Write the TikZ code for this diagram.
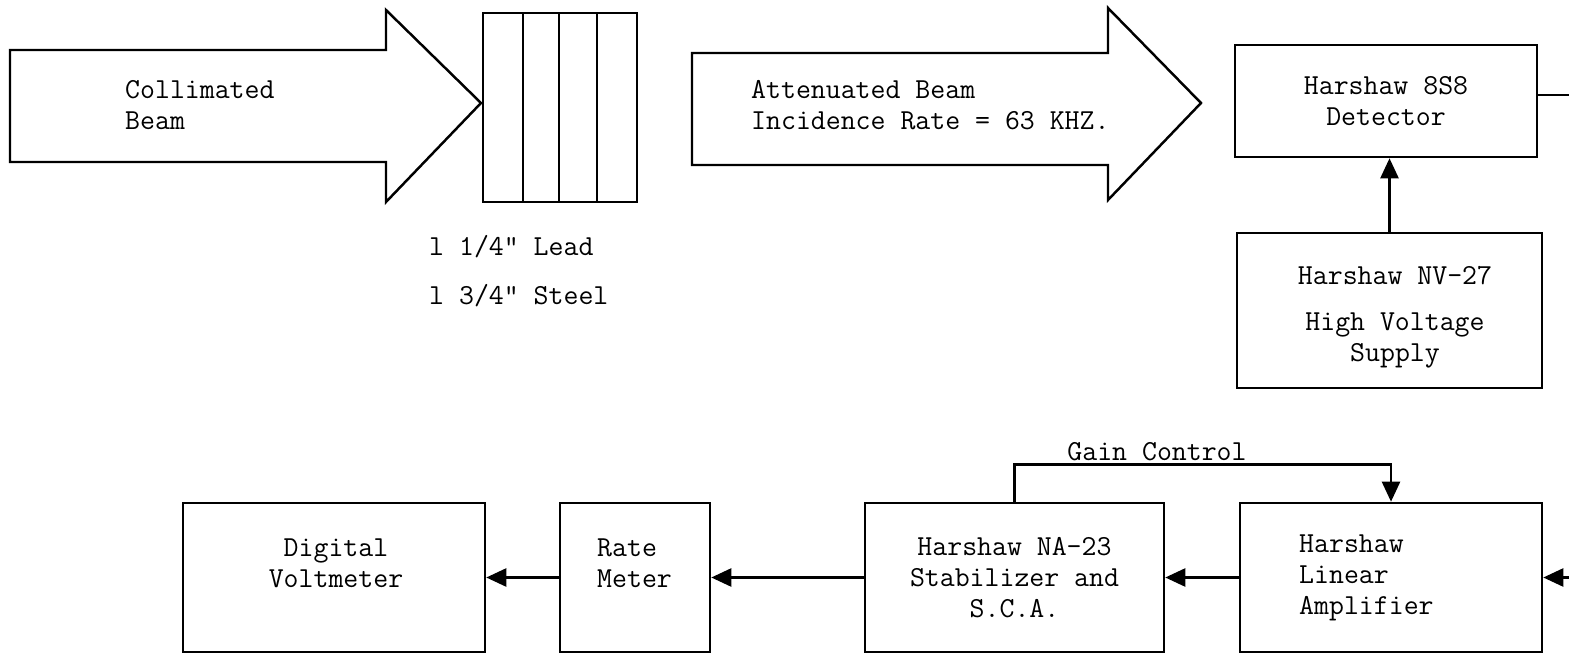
\documentclass[tikz,border=0pt]{standalone}
\usepackage{fontspec}
\usetikzlibrary{arrows.meta,positioning}

\begin{document}
\begin{tikzpicture}[x=0.02cm, y=-0.02cm, line width=1.4pt,
  caja/.style={draw, line width=1.5pt, inner sep=0pt, align=center,
    font=\ttfamily\fontsize{16.5}{17.5}\selectfont},
  texto/.style={inner sep=0pt, align=left, anchor=west,
    font=\ttfamily\fontsize{16.5}{17.5}\selectfont},
  flecha/.style={-{Triangle[length=0.4cm,width=0.36cm]}, line width=1.4pt}
]
  \clip (0,0) rectangle (1569,655);

  % haces
  \draw (10,50) -- (386,50) -- (386,10) -- (481,103) -- (386,202) -- (386,162) -- (10,162) -- cycle;
  \draw (692,53) -- (1108,53) -- (1108,8) -- (1201,103) -- (1108,200) -- (1108,165) -- (692,165) -- cycle;
  \node[texto] (colim) at (124,105) {Collimated\\Beam};
  \node[texto] (atenu) at (750,105) {Attenuated Beam\\Incidence Rate = 63 KHZ.};

  % absorbente
  \node[caja, minimum width=3.08cm, minimum height=3.78cm] (absor) at (560,107.5) {};
  \foreach \xx in {523,559,597}
    \draw[line width=1.5pt] (\xx,13) -- (\xx,202);
  \node[texto] (plomo) at (428,247) {l 1/4" Lead};
  \node[texto] (acero) at (428,296) {l 3/4" Steel};

  % detector
  \node[caja, minimum width=6.04cm, minimum height=2.24cm] (det) at (1386,101) {Harshaw 8S8\\Detector};
  \node[caja, minimum width=6.1cm, minimum height=3.1cm] (hv) at (1389.5,310.5) {};
  \node[caja, draw=none] (hvtxt) at (1395,317) {Harshaw NV-27\\[0.32cm]High Voltage\\Supply};
  \draw[flecha] (hv.north) -- (hv.north |- det.south);
  \coordinate (salida) at (1585,95);
  \draw (det.east |- salida) -- (salida);

  % cadena de medida
  \node[caja, minimum width=6.04cm, minimum height=2.98cm] (dvm) at (334,577.5) {};
  \node[caja, draw=none] (dvmtxt) at (336,563) {Digital\\Voltmeter};
  \node[caja, minimum width=3.0cm, minimum height=2.98cm] (rate) at (635,577.5) {};
  \node[texto] (ratetxt) at (596,563) {Rate\\Meter};
  \node[caja, minimum width=5.98cm, minimum height=2.98cm] (sca) at (1014.5,577.5) {Harshaw NA-23\\Stabilizer and\\S.C.A.};
  \node[caja, minimum width=6.04cm, minimum height=2.98cm] (amp) at (1391,577.5) {};
  \node[texto] (amptxt) at (1298,578) {Harshaw\\Linear\\Amplifier};

  \coordinate (entrada) at (1585,577.5);
  \draw[flecha] (entrada) -- (amp);
  \draw[flecha] (amp) -- (sca);
  \draw[flecha] (sca) -- (rate);
  \draw[flecha] (rate) -- (dvm);
  \draw[flecha] (sca.north) -- ++(0,-37) -| (amp.north);
  \node[caja, draw=none] (gain) at (1157,452) {Gain Control};
\end{tikzpicture}
\end{document}
